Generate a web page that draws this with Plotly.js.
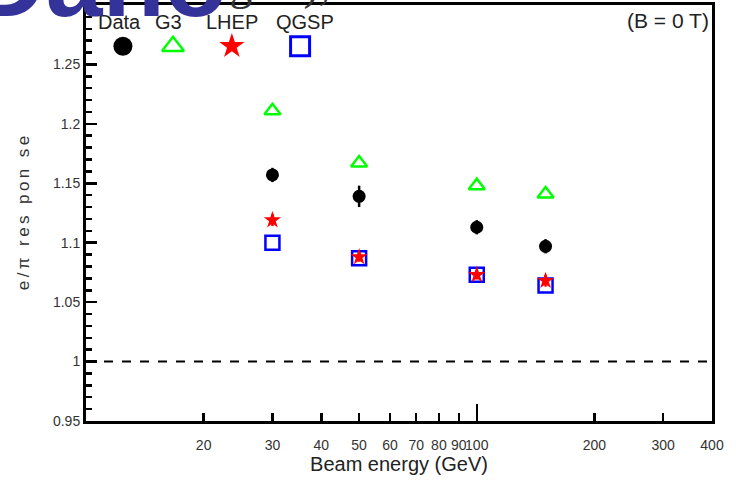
<!DOCTYPE html>
<html>
<head>
<meta charset="utf-8">
<script src="https://cdn.plot.ly/plotly-3.0.1.min.js"></script>
<style>html,body{margin:0;padding:0;background:#fff;}#chart{width:736px;height:481px;}</style>
</head>
<body>
<div id="chart"></div>
<script>
// Beam energies (GeV)
const energies = [30, 50, 100, 150];
// e/pi response
const dataResp  = [1.157, 1.139, 1.113, 1.097];
const dataErr   = [0.006, 0.009, 0.006, 0.006];
const g3Resp    = [1.211, 1.167, 1.148, 1.141];
const lhepResp  = [1.119, 1.088, 1.073, 1.068];
const lhepErr   = [0.005, 0.004, 0.004, 0.005];
const qgspResp  = [1.100, 1.087, 1.073, 1.064];
// x tick labels
const xTickVals = [20, 30, 40, 50, 60, 70, 80, 90, 100, 200, 300, 400];
const xTickText = ["20", "30", "40", "50", "60", "70", "80", "90", "100", "200", "300", "400"];
// legend
const legendNames = ["Data", "G3", "LHEP", "QGSP"];
const legendKeyX = [0.059, 0.139, 0.233, 0.342];
const legendKeyY = [0.901, 0.901, 0.901, 0.901];
const legendTextX = [0.054, 0.131, 0.233, 0.35];

const black = "#000000", green = "#00ff00", red = "#ff0000", blue = "#0000ff";
const symbols = ["circle", "triangle-up-open", "star", "square-open"];
const colors = [black, green, red, blue];

const traces = [
  {x: energies, y: dataResp, type: "scatter", mode: "markers", name: "Data",
   marker: {symbol: "circle", size: 13, color: black, opacity: 1},
   error_y: {type: "data", array: dataErr, color: black, thickness: 2.5, width: 0}},
  {x: energies, y: g3Resp, type: "scatter", mode: "markers", name: "G3",
   marker: {symbol: "triangle-up-open", size: 14, color: green, opacity: 1, line: {width: 2.5, color: green}}},
  {x: energies, y: qgspResp, type: "scatter", mode: "markers", name: "QGSP",
   marker: {symbol: "square-open", size: 14, color: blue, opacity: 1, line: {width: 2.5, color: blue}}},
  {x: energies, y: lhepResp, type: "scatter", mode: "markers", name: "LHEP",
   marker: {symbol: "star", size: 13, color: red, opacity: 1, line: {width: 0}},
   error_y: {type: "data", array: lhepErr, color: red, thickness: 2.5, width: 0}},
  // dummy trace to carry the long 100 tick axis
  {x: [], y: [], xaxis: "x2", yaxis: "y", type: "scatter", mode: "markers", hoverinfo: "skip"},
  // legend keys
  {x: legendKeyX, y: legendKeyY, xaxis: "x3", yaxis: "y3", type: "scatter", mode: "markers",
   hoverinfo: "skip", cliponaxis: false,
   marker: {symbol: symbols, size: 19, color: colors, opacity: 1,
            line: {width: [0, 2.5, 0, 3], color: colors}}}
];

const annotations = legendNames.map((n, i) => ({
  text: n, xref: "paper", yref: "paper", x: legendTextX[i], y: 0.959,
  xanchor: "center", yanchor: "middle", showarrow: false,
  font: {family: "Liberation Sans, Arial, sans-serif", size: 20, color: "#222"}
}));
annotations.push({
  text: "(B = 0 T)", xref: "paper", yref: "paper", x: 0.998, y: 0.962,
  xanchor: "right", yanchor: "middle", showarrow: false,
  font: {family: "Liberation Sans, Arial, sans-serif", size: 21, color: "#222"}
});
annotations.push({
  text: "energies),", xref: "paper", yref: "paper", x: 0.393, y: 0.985,
  xanchor: "right", yanchor: "bottom", showarrow: false,
  font: {family: "Liberation Serif, Times New Roman, serif", size: 46, color: "#333"}
});
annotations.push({
  text: "<b>Dano</b>", xref: "paper", yref: "paper", x: 0.228, y: 0.916,
  xanchor: "right", yanchor: "bottom", showarrow: false,
  font: {family: "Liberation Sans, Arial, sans-serif", size: 102, color: "#333399"}
});

const layout = {
  width: 736, height: 481,
  margin: {l: 86, r: 24, t: 5, b: 60},
  paper_bgcolor: "#ffffff", plot_bgcolor: "#ffffff",
  showlegend: false,
  xaxis: {
    type: "log", range: [1, Math.log10(400)],
    tickmode: "array", tickvals: xTickVals, ticktext: xTickText, tickangle: 0,
    ticks: "inside", ticklen: 8, tickwidth: 2.5, tickcolor: black,
    showgrid: false, zeroline: false,
    showline: true, linewidth: 3, linecolor: black, mirror: true,
    ticklabelstandoff: 9,
    tickfont: {family: "Liberation Sans, Arial, sans-serif", size: 14, color: "#333"},
    title: {text: "Beam energy (GeV)", standoff: 0,
            font: {family: "Liberation Sans, Arial, sans-serif", size: 20, color: "#222"}}
  },
  xaxis2: {
    type: "log", range: [1, Math.log10(400)], overlaying: "x", anchor: "y", side: "bottom",
    tickmode: "array", tickvals: [100], showticklabels: false,
    ticks: "inside", ticklen: 17, tickwidth: 2.5, tickcolor: black,
    showgrid: false, zeroline: false, showline: false
  },
  xaxis3: {range: [0, 1], overlaying: "x", visible: false, anchor: "y3"},
  yaxis3: {range: [0, 1], overlaying: "y", visible: false, anchor: "x3"},
  yaxis: {
    range: [0.95, 1.30], tick0: 0.95, dtick: 0.05,
    ticks: "inside", ticklen: 11, tickwidth: 2.5, tickcolor: black,
    minor: {dtick: 0.01, ticks: "inside", ticklen: 6, tickwidth: 2.5, tickcolor: black, showgrid: false},
    showgrid: false, zeroline: false,
    showline: true, linewidth: 3, linecolor: black, mirror: true,
    tickfont: {family: "Liberation Sans, Arial, sans-serif", size: 14, color: "#333"},
    title: {text: "e\u2009/\u2009π\u2009 \u2009r\u2009e\u2009s\u2009 \u2009p\u2009o\u2009n\u2009 \u2009s\u2009e", standoff: 20,
            font: {family: "Liberation Sans, Arial, sans-serif", size: 17, color: "#333"}}
  },
  shapes: [
    {type: "line", xref: "paper", x0: 0, x1: 1, yref: "y", y0: 1, y1: 1,
     line: {color: black, width: 2, dash: "dash"}}
  ],
  annotations: annotations
};

Plotly.newPlot("chart", traces, layout, {displayModeBar: false, staticPlot: true});
</script>
</body>
</html>
